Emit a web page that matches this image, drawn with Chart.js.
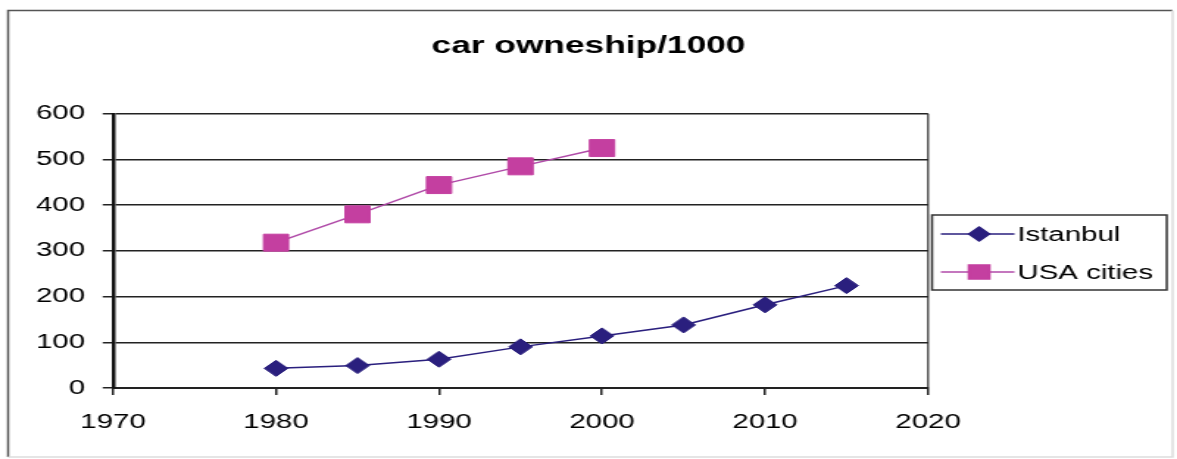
<!DOCTYPE html>
<html>
<head>
<meta charset="utf-8">
<script src="https://cdn.jsdelivr.net/npm/chart.js@4.4.1/dist/chart.umd.min.js"></script>
<style>
  html, body { margin: 0; padding: 0; background: #fff; overflow: hidden; }
  /* the reference is a stretched screenshot, so draw at 800 wide and stretch */
  #wrap { width: 800px; height: 459px; transform: scaleX(1.47125); transform-origin: 0 0; }
</style>
</head>
<body>
<div id="wrap"><canvas id="car-chart"></canvas></div>
<script>
var title_text = "car owneship/1000";
var istanbul_years = [1980, 1985, 1990, 1995, 2000, 2005, 2010, 2015];
var istanbul_values = [43, 49, 63, 90, 114, 138, 182, 224];
var usa_years = [1980, 1985, 1990, 1995, 2000];
var usa_values = [318, 380, 444, 485, 525];
var x_ticks = [1970, 1980, 1990, 2000, 2010, 2020];
var y_ticks = [0, 100, 200, 300, 400, 500, 600];

var navy = "#2a1f7e";
var pink = "#c43fa0";
var fontFamily = "'Liberation Sans', Arial, sans-serif";

function toPoints(xs, ys) {
  return xs.map(function (x, i) { return { x: x, y: ys[i] }; });
}

// outer frame of the picture
var framePlugin = {
  id: "frame",
  beforeDraw: function (chart) {
    var ctx = chart.ctx;
    ctx.save();
    ctx.fillStyle = "#fff";
    ctx.fillRect(0, 0, chart.width, chart.height);
    ctx.strokeStyle = "#555";
    ctx.lineWidth = 1.5;
    ctx.beginPath();
    ctx.moveTo(5.5, chart.height - 2);
    ctx.lineTo(5.5, 10.5);
    ctx.lineTo(chart.width - 3, 10.5);
    ctx.stroke();
    ctx.strokeStyle = "#ddd";
    ctx.beginPath();
    ctx.moveTo(chart.width - 3, 10.5);
    ctx.lineTo(chart.width - 3, chart.height - 2);
    ctx.lineTo(5.5, chart.height - 2);
    ctx.stroke();
    ctx.restore();
  }
};

// excel style legend: line through marker, boxed
var boxLegend = {
  id: "boxLegend",
  afterDraw: function (chart) {
    var ctx = chart.ctx;
    var left = 633.5, top = 215, w = 159.5, h = 75;
    ctx.save();
    ctx.strokeStyle = "#333";
    ctx.lineWidth = 1.5;
    ctx.strokeRect(left, top, w, h);
    var rows = [19, 57];
    chart.data.datasets.forEach(function (ds, i) {
      var y = top + rows[i];
      ctx.strokeStyle = ds.borderColor;
      ctx.lineWidth = 1.5;
      ctx.beginPath();
      ctx.moveTo(left + 6, y);
      ctx.lineTo(left + 56, y);
      ctx.stroke();
      ctx.fillStyle = ds.pointBackgroundColor;
      ctx.strokeStyle = ds.pointBackgroundColor;
      Chart.helpers.drawPoint(ctx, {
        pointStyle: ds.pointStyle,
        radius: i === 0 ? 7 : 10,
        borderWidth: 1,
        rotation: 0
      }, left + 32, y);
      ctx.fillStyle = "#000";
      ctx.font = "20px " + fontFamily;
      ctx.textAlign = "left";
      ctx.textBaseline = "middle";
      ctx.fillText(ds.label, left + 58, y + 1);
    });
    ctx.restore();
  }
};

new Chart("car-chart", {
  type: "line",
  data: {
    datasets: [{
      label: "Istanbul",
      data: toPoints(istanbul_years, istanbul_values),
      borderColor: navy,
      backgroundColor: navy,
      pointBackgroundColor: navy,
      pointBorderColor: navy,
      borderWidth: 1.5,
      pointStyle: "rectRot",
      pointRadius: 8,
      pointBorderWidth: 1
    }, {
      label: "USA cities",
      data: toPoints(usa_years, usa_values),
      borderColor: "#b04aa8",
      backgroundColor: pink,
      pointBackgroundColor: pink,
      pointBorderColor: pink,
      borderWidth: 1.5,
      pointStyle: "rect",
      pointRadius: 12,
      pointBorderWidth: 1
    }]
  },
  options: {
    responsive: true,
    maintainAspectRatio: false,
    animation: false,
    layout: {
      padding: { left: 0, right: 0, top: 0, bottom: 0 }
    },
    plugins: {
      legend: { display: false },
      tooltip: { enabled: false },
      title: {
        display: true,
        text: title_text,
        color: "#000",
        font: { family: fontFamily, size: 24, weight: "bold" },
        padding: { top: 32, bottom: 53 }
      }
    },
    scales: {
      x: {
        type: "linear",
        min: 1970,
        max: 2020,
        afterBuildTicks: function (scale) {
          scale.ticks = x_ticks.map(function (v) { return { value: v }; });
        },
        afterFit: function (scale) { scale.height = 71; },
        grid: {
          drawOnChartArea: true,
          color: function (c) { return c.tick && c.tick.value === 2020 ? "#555" : "rgba(0,0,0,0)"; },
          lineWidth: 1.5,
          tickColor: "#222",
          tickLength: 7
        },
        border: { display: true, color: "#222", width: 2 },
        ticks: {
          color: "#000",
          padding: 15,
          maxRotation: 0,
          font: { family: fontFamily, size: 20 },
          callback: function (v) { return String(v); }
        }
      },
      y: {
        min: 0,
        max: 600,
        afterBuildTicks: function (scale) {
          scale.ticks = y_ticks.map(function (v) { return { value: v }; });
        },
        afterFit: function (scale) { scale.width = 76.8; },
        grid: {
          color: "#222",
          lineWidth: 1.5,
          tickColor: "#222",
          tickLength: 7
        },
        border: { display: true, color: "#111", width: 2.5 },
        ticks: {
          color: "#000",
          padding: 12,
          font: { family: fontFamily, size: 20 }
        }
      },
      // empty right axis that keeps room for the legend box
      legendSpace: {
        position: "right",
        min: 0,
        max: 600,
        afterFit: function (scale) { scale.width = 169.2; },
        grid: { drawOnChartArea: false, drawTicks: false },
        border: { display: false },
        ticks: { display: false }
      }
    }
  },
  plugins: [framePlugin, boxLegend]
});
</script>
</body>
</html>
